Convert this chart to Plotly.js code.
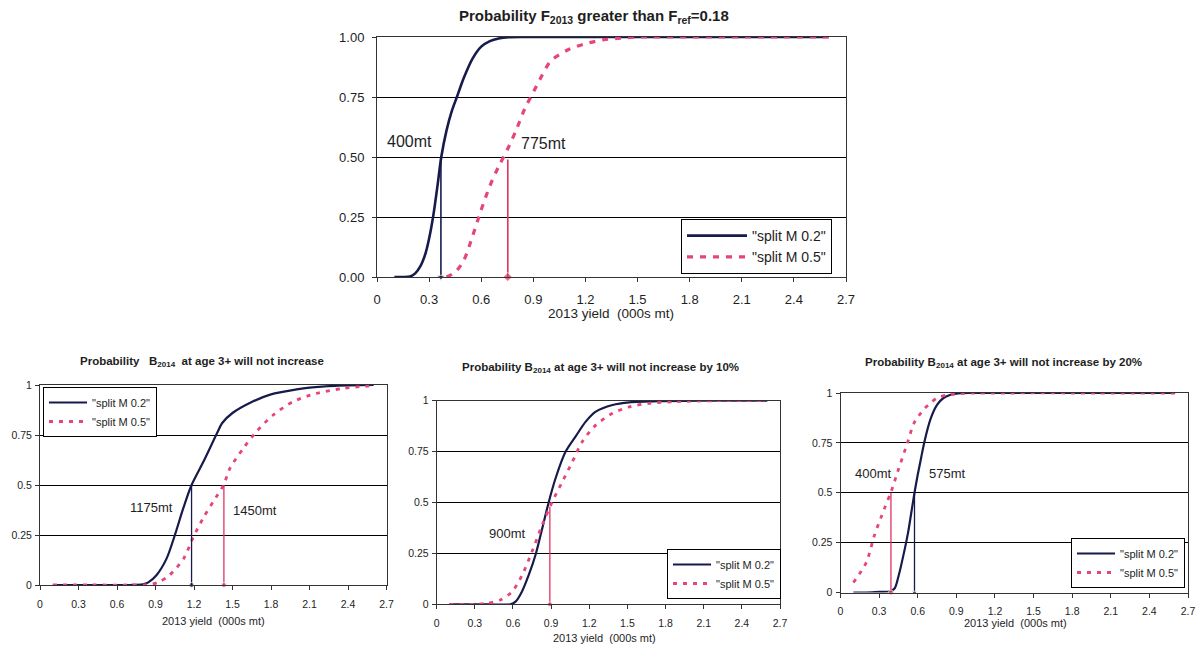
<!DOCTYPE html>
<html>
<head>
<meta charset="utf-8">
<script src="https://cdn.plot.ly/plotly-3.0.1.min.js"></script>
<style>html,body{margin:0;padding:0;background:#fff;}#chart{width:1203px;height:648px;}</style>
</head>
<body>
<div id="chart"></div>
<script>
// ---------- tick labels ----------
const xTickVals = [0, 0.3, 0.6, 0.9, 1.2, 1.5, 1.8, 2.1, 2.4, 2.7];
const xTickText = ['0', '0.3', '0.6', '0.9', '1.2', '1.5', '1.8', '2.1', '2.4', '2.7'];
const yTickVals = [0, 0.25, 0.5, 0.75, 1];
const yTickTextTop = ['0.00', '0.25', '0.50', '0.75', '1.00'];
const yTickTextBottom = ['0', '0.25', '0.5', '0.75', '1'];
const seriesNames = ['"split M 0.2"', '"split M 0.5"'];

// ---------- Panel 1: Probability F2013 greater than Fref=0.18 ----------
const p1X_M02 = [0.1, 0.15, 0.19, 0.22, 0.25, 0.28, 0.3, 0.325, 0.35, 0.37, 0.4, 0.43, 0.46, 0.5, 0.55, 0.6, 0.65, 0.7, 0.76, 0.85, 1.0, 1.5, 2.0, 2.6];
const p1Y_M02 = [0, 0, 0.002, 0.015, 0.045, 0.1, 0.16, 0.26, 0.39, 0.5, 0.61, 0.69, 0.75, 0.83, 0.91, 0.96, 0.983, 0.994, 0.999, 1, 1, 1, 1, 1];
const p1X_M05 = [0.4, 0.45, 0.5, 0.55, 0.6, 0.65, 0.7, 0.75, 0.8, 0.85, 0.9, 0.95, 1.0, 1.1, 1.2, 1.3, 1.4, 1.5, 1.8, 2.2, 2.6];
const p1Y_M05 = [0, 0.02, 0.07, 0.17, 0.28, 0.38, 0.46, 0.53, 0.61, 0.7, 0.77, 0.84, 0.9, 0.947, 0.972, 0.988, 0.995, 1, 1, 1, 1];
const p1MarkX = [0.368, 0.753];
const p1MarkTop = [0.5, 0.49];
const p1Labels = ['400mt', '775mt'];
const p1LabelX = [0.185, 0.957];
const p1LabelY = [0.565, 0.558];

// ---------- Panel 2: Probability B2014 at age 3+ will not increase ----------
const p2X_M02 = [0.1, 0.4, 0.7, 0.8, 0.844, 0.909, 0.987, 1.051, 1.116, 1.181, 1.28, 1.38, 1.42, 1.5, 1.65, 1.8, 2.0, 2.1, 2.3, 2.6];
const p2Y_M02 = [0, 0, 0, 0.003, 0.013, 0.05, 0.133, 0.25, 0.383, 0.5, 0.625, 0.76, 0.81, 0.86, 0.915, 0.953, 0.978, 0.987, 0.996, 1];
const p2X_M05 = [0.1, 0.4, 0.7, 0.85, 0.92, 1.01, 1.12, 1.19, 1.27, 1.35, 1.43, 1.48, 1.584, 1.687, 1.817, 1.973, 2.155, 2.36, 2.6];
const p2Y_M05 = [0, 0, 0, 0.002, 0.013, 0.05, 0.133, 0.233, 0.333, 0.417, 0.5, 0.583, 0.683, 0.767, 0.85, 0.917, 0.958, 0.983, 0.997];
const p2MarkX = [1.181, 1.433];
const p2MarkTop = [0.5, 0.5];
const p2Labels = ['1175mt', '1450mt'];
const p2LabelX = [0.87, 1.674];
const p2LabelY = [0.39, 0.372];

// ---------- Panel 3: ... will not increase by 10% ----------
const p3X_M02 = [0.1, 0.4, 0.58, 0.62, 0.67, 0.724, 0.777, 0.83, 0.882, 0.935, 1.014, 1.093, 1.172, 1.251, 1.383, 1.515, 1.78, 2.1, 2.6];
const p3Y_M02 = [0, 0, 0, 0.013, 0.062, 0.144, 0.242, 0.373, 0.504, 0.619, 0.75, 0.825, 0.897, 0.946, 0.979, 0.992, 0.998, 1, 1];
const p3X_M05 = [0.1, 0.3, 0.4, 0.5, 0.593, 0.672, 0.75, 0.83, 0.909, 0.988, 1.067, 1.146, 1.251, 1.383, 1.515, 1.673, 1.857, 2.2, 2.6];
const p3Y_M05 = [0, 0, 0.005, 0.021, 0.062, 0.144, 0.259, 0.39, 0.504, 0.602, 0.7, 0.8, 0.88, 0.938, 0.97, 0.987, 0.995, 1, 1];
const p3MarkX = [0.89];
const p3MarkTop = [0.48];
const p3Labels = ['900mt'];
const p3LabelX = [0.553];
const p3LabelY = [0.349];

// ---------- Panel 4: ... will not increase by 20% ----------
const p4X_M02 = [0.1, 0.2, 0.3, 0.38, 0.42, 0.45, 0.5, 0.525, 0.55, 0.575, 0.6, 0.625, 0.65, 0.7, 0.75, 0.8, 0.85, 0.9, 1.0, 1.3, 2.0, 2.6];
const p4Y_M02 = [0, 0, 0.003, 0.005, 0.02, 0.08, 0.22, 0.3, 0.4, 0.5, 0.59, 0.67, 0.75, 0.87, 0.94, 0.975, 0.99, 0.997, 1, 1, 1, 1];
const p4X_M05 = [0.1, 0.2, 0.263, 0.34, 0.392, 0.443, 0.52, 0.572, 0.65, 0.7, 0.75, 0.83, 0.96, 1.3, 2.0, 2.6];
const p4Y_M05 = [0.05, 0.15, 0.285, 0.419, 0.503, 0.603, 0.75, 0.85, 0.92, 0.95, 0.975, 0.99, 0.998, 1, 1, 1];
const p4MarkX = [0.392, 0.575];
const p4MarkTop = [0.5, 0.5];
const p4Labels = ['400mt', '575mt'];
const p4LabelX = [0.257, 0.83];
const p4LabelY = [0.595, 0.595];

// ---------- styles ----------
const NAVY = '#161b4c';
const PINK = '#e6457a';
const RED = '#e0335e';
const TXT = '#1e1e1e';
const FONT = 'Liberation Sans, Arial, sans-serif';
const W = 1203, H = 648;
const px = v => v / W;
const py = v => 1 - v / H;

const panels = [
  {X02: p1X_M02, Y02: p1Y_M02, X05: p1X_M05, Y05: p1Y_M05, mx: p1MarkX, mt: p1MarkTop, mcol: [NAVY, RED], msym: ['triangle-down', 'diamond'],
   lab: p1Labels, lx: p1LabelX, ly: p1LabelY, big: true,
   xd: [px(377), px(846)], yd: [py(277), py(37)], leg: {x: px(681), y: py(219)}},
  {X02: p2X_M02, Y02: p2Y_M02, X05: p2X_M05, Y05: p2Y_M05, mx: p2MarkX, mt: p2MarkTop, mcol: [NAVY, RED], msym: ['circle', 'circle'],
   lab: p2Labels, lx: p2LabelX, ly: p2LabelY, big: false,
   xd: [px(40), px(386.5)], yd: [py(585), py(385)], leg: {x: px(43), y: py(387)}},
  {X02: p3X_M02, Y02: p3Y_M02, X05: p3X_M05, Y05: p3Y_M05, mx: p3MarkX, mt: p3MarkTop, mcol: [RED], msym: ['circle'],
   lab: p3Labels, lx: p3LabelX, ly: p3LabelY, big: false,
   xd: [px(436.7), px(780)], yd: [py(604.3), py(400.7)], leg: {x: px(667), y: py(549)}},
  {X02: p4X_M02, Y02: p4Y_M02, X05: p4X_M05, Y05: p4Y_M05, mx: p4MarkX, mt: p4MarkTop, mcol: [RED, NAVY], msym: ['circle', 'triangle-down'],
   lab: p4Labels, lx: p4LabelX, ly: p4LabelY, big: false,
   xd: [px(840.5), px(1188)], yd: [py(592.5), py(393)], leg: {x: px(1071), y: py(538)}}
];

const titles = [
  {text: '<b>Probability F<sub>2013</sub> greater than F<sub>ref</sub>=0.18</b>', x: px(594), y: py(16), size: 15},
  {text: '<b>Probability\u00a0\u00a0 B<sub>2014</sub>\u00a0 at age 3+ will not increase</b>', x: px(202), y: py(362), size: 11.5},
  {text: '<b>Probability B<sub>2014</sub> at age 3+ will not increase by 10%</b>', x: px(600), y: py(368), size: 11.5},
  {text: '<b>Probability B<sub>2014</sub> at age 3+ will not increase by 20%</b>', x: px(1003), y: py(363), size: 11.5}
];
const xTitlePos = [
  {x: px(611), y: py(314), size: 13.5},
  {x: px(213), y: py(621), size: 11},
  {x: px(604), y: py(638), size: 11},
  {x: px(1015), y: py(623), size: 11}
];
const xTitleText = '2013 yield\u00a0 (000s mt)';

const traces = [];
const layout = {
  width: W, height: H,
  margin: {l: 0, r: 0, t: 0, b: 0},
  paper_bgcolor: '#fff', plot_bgcolor: '#fff',
  font: {family: FONT, color: TXT},
  annotations: [],
  showlegend: true
};

panels.forEach((p, i) => {
  const n = i + 1;
  const xa = 'x' + (n === 1 ? '' : n), ya = 'y' + (n === 1 ? '' : n);
  const legName = n === 1 ? 'legend' : 'legend' + n;
  const tickSize = p.big ? 13 : 10.5;
  const lw = p.big ? 2.6 : 2.2;
  traces.push({x: p.X02, y: p.Y02, xaxis: xa, yaxis: ya, name: seriesNames[0], legend: legName,
    mode: 'lines', line: {color: NAVY, width: lw, shape: 'spline', smoothing: 0.8}, cliponaxis: false, hoverinfo: 'skip'});
  traces.push({x: p.X05, y: p.Y05, xaxis: xa, yaxis: ya, name: seriesNames[1], legend: legName,
    mode: 'lines', line: {color: PINK, width: p.big ? 3.2 : 2.8, dash: p.big ? '6px,7px' : '4px,6px', shape: 'spline', smoothing: 0.8}, cliponaxis: false, hoverinfo: 'skip'});
  p.mx.forEach((mx, k) => {
    traces.push({x: [mx, mx], y: [p.mt[k], 0], xaxis: xa, yaxis: ya, showlegend: false, mode: 'lines+markers',
      line: {color: p.mcol[k], width: p.big ? 1.6 : 1.3},
      marker: {size: [0, p.big ? 7 : 5], symbol: p.msym[k], color: p.mcol[k]}, cliponaxis: false, hoverinfo: 'skip'});
  });
  p.lab.forEach((t, k) => {
    layout.annotations.push({text: t, x: p.lx[k], y: p.ly[k], xref: xa, yref: ya, showarrow: false,
      font: {size: p.big ? 16 : 13, color: TXT, family: FONT}, xanchor: 'center', yanchor: 'middle'});
  });
  layout['xaxis' + (n === 1 ? '' : n)] = {
    domain: p.xd, anchor: ya, range: [0, 2.7], tickvals: xTickVals, ticktext: xTickText,
    showgrid: false, zeroline: false, showline: true, mirror: true, linecolor: '#333', linewidth: 1,
    ticks: 'outside', ticklen: 4, tickcolor: '#333', ticklabelstandoff: p.big ? 6 : 5,
    tickfont: {size: tickSize, color: TXT, family: FONT}, automargin: false, fixedrange: true
  };
  layout['yaxis' + (n === 1 ? '' : n)] = {
    domain: p.yd, anchor: xa, range: [0, 1], tickvals: yTickVals, ticktext: p.big ? yTickTextTop : yTickTextBottom,
    showgrid: true, gridcolor: '#000', gridwidth: 1, zeroline: false, showline: true, mirror: true, linecolor: '#333', linewidth: 1,
    ticks: 'outside', ticklen: 4, tickcolor: '#333', ticklabelstandoff: p.big ? 5 : 1,
    tickfont: {size: tickSize, color: TXT, family: FONT}, automargin: false, fixedrange: true
  };
  layout[legName] = {
    x: p.leg.x, y: p.leg.y, xanchor: 'left', yanchor: 'top', xref: 'paper', yref: 'paper',
    bgcolor: '#fff', bordercolor: '#000', borderwidth: 1,
    font: {size: p.big ? 14 : 11, color: TXT, family: FONT},
    itemwidth: p.big ? 60 : 38, tracegroupgap: 0, traceorder: 'normal'
  };
  const tt = titles[i];
  layout.annotations.push({text: tt.text, x: tt.x, y: tt.y, xref: 'paper', yref: 'paper', showarrow: false,
    xanchor: 'center', yanchor: 'middle', font: {size: tt.size, color: TXT, family: FONT}});
  const xt = xTitlePos[i];
  layout.annotations.push({text: xTitleText, x: xt.x, y: xt.y, xref: 'paper', yref: 'paper', showarrow: false,
    xanchor: 'center', yanchor: 'middle', font: {size: xt.size, color: TXT, family: FONT}});
});

Plotly.newPlot('chart', traces, layout, {displayModeBar: false, staticPlot: true});
</script>
</body>
</html>
